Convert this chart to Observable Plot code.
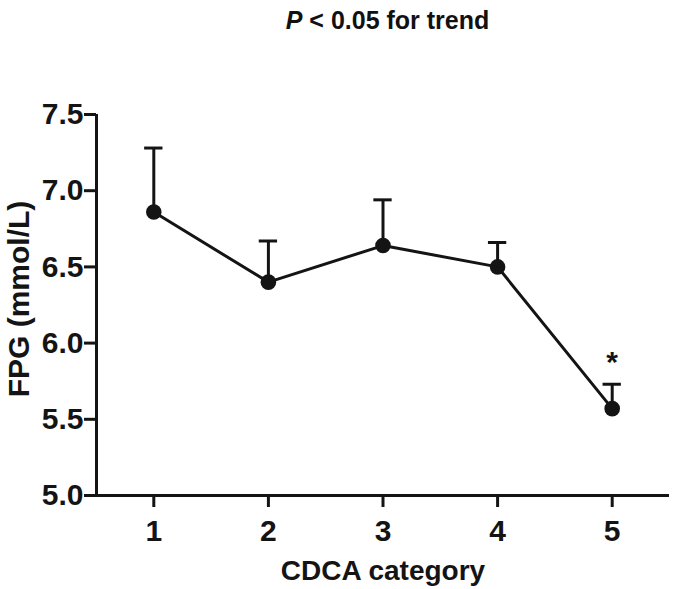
<!DOCTYPE html>
<html>
<head>
<meta charset="utf-8">
<script src="https://cdn.jsdelivr.net/npm/d3@7"></script>
<script src="https://cdn.jsdelivr.net/npm/@observablehq/plot@0.6"></script>
<style>
  html, body { margin: 0; padding: 0; background: #fff; }
  #title { width: 675px; height: 40px; line-height: 40px; box-sizing: border-box; padding-left: 100px; text-align: center;
           font-family: "Liberation Sans", Arial, sans-serif; font-weight: bold; font-size: 25px; color: #111; }
  #chart svg { display: block; }
</style>
</head>
<body>
<div id="title"><i>P</i> &lt; 0.05 for trend</div>
<div id="chart"></div>
<script>
const categories = [1, 2, 3, 4, 5];
const meanFPG = [6.86, 6.40, 6.64, 6.50, 5.57];
const upperFPG = [7.28, 6.67, 6.94, 6.66, 5.73];
const sigMarks = ["", "", "", "", "*"];
const yTicks = [5.0, 5.5, 6.0, 6.5, 7.0, 7.5];
const xTicks = [1, 2, 3, 4, 5];

const data = categories.map((c, i) => ({x: c, mean: meanFPG[i], upper: upperFPG[i], sig: sigMarks[i]}));
const ink = "#141414";
const font = "Liberation Sans, Arial, sans-serif";

const chart = Plot.plot({
  width: 675,
  height: 549,
  marginTop: 74,
  marginBottom: 94,
  marginLeft: 96,
  marginRight: 6,
  style: {fontFamily: font, fontWeight: "bold", fontSize: "28px", color: ink, background: "#fff"},
  x: {domain: [0.5, 5.5]},
  y: {domain: [5, 7.5]},
  marks: [
    Plot.axisY({ticks: yTicks, tickFormat: () => "", tickSize: 12, strokeWidth: 3, label: null, stroke: ink}),
    Plot.axisX({ticks: xTicks, tickFormat: () => "", tickSize: 12, strokeWidth: 3, label: null, stroke: ink}),
    Plot.text(yTicks, {x: 0.5, y: d => d, text: d => d.toFixed(1), textAnchor: "end", dx: -13, fontSize: 30, fill: ink}),
    Plot.text(xTicks, {x: d => d, y: 5, text: d => String(d), dy: 36, fontSize: 30, fill: ink}),
    Plot.ruleX([0.5], {stroke: ink, strokeWidth: 3}),
    Plot.ruleY([5], {stroke: ink, strokeWidth: 3}),
    Plot.ruleX(data, {x: "x", y1: "mean", y2: "upper", stroke: ink, strokeWidth: 3}),
    Plot.ruleY(data, {y: "upper", x1: d => d.x - 0.08, x2: d => d.x + 0.08, stroke: ink, strokeWidth: 3}),
    Plot.line(data, {x: "x", y: "mean", stroke: ink, strokeWidth: 3}),
    Plot.dot(data, {x: "x", y: "mean", r: 7.8, fill: ink, stroke: "none"}),
    Plot.text(data, {x: "x", y: "upper", text: "sig", dy: -22, fontSize: 30, fill: ink}),
    Plot.text(["FPG (mmol/L)"], {frameAnchor: "left", dx: -77, dy: -6, rotate: -90, textAnchor: "middle", fontSize: 30, fill: ink}),
    Plot.text(["CDCA category"], {frameAnchor: "bottom", dy: 84, fontSize: 28, fill: ink})
  ]
});
document.getElementById("chart").appendChild(chart);
</script>
</body>
</html>
